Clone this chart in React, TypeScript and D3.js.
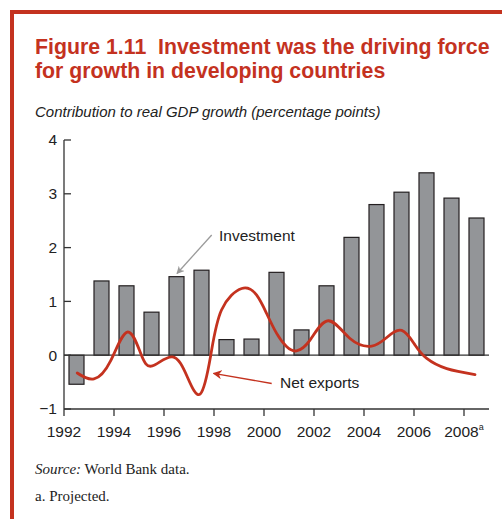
import React from 'react';
import * as d3 from 'd3';

// Investment contribution, one bar per year
const years = [1992, 1993, 1994, 1995, 1996, 1997, 1998, 1999, 2000, 2001, 2002, 2003, 2004, 2005, 2006, 2007, 2008];
const investment = [-0.54, 1.38, 1.29, 0.8, 1.46, 1.58, 0.29, 0.3, 1.54, 0.47, 1.29, 2.19, 2.8, 3.03, 3.39, 2.92, 2.55];

// Net exports, points (fractional years)
const netYears = [
  1992.53, 1993.2, 1993.87, 1994.53, 1995.07, 1995.53, 1996.33, 1996.93, 1997.45,
  1997.87, 1998.3, 1999.11, 1999.7, 2000.1, 2000.5, 2000.9, 2001.3, 2001.84, 2002.57,
  2003.44, 2004.31, 2004.91, 2005.51, 2006.04, 2006.51, 2007.31, 2008.44,
];
const netValues = [
  -0.33, -0.44, -0.1, 0.43, 0.03, -0.2, -0.03, -0.4, -0.72,
  0.0, 0.84, 1.24, 1.12, 0.78, 0.41, 0.16, 0.08, 0.28, 0.64,
  0.31, 0.17, 0.33, 0.46, 0.19, -0.06, -0.25, -0.36,
];

const yTicks = [-1, 0, 1, 2, 3, 4];
const xTicks = [1992, 1994, 1996, 1998, 2000, 2002, 2004, 2006, 2008];

const RED = '#c4321f';
const SANS = '"Liberation Sans", Arial, Helvetica, sans-serif';
const SERIF = '"Liberation Serif", "Times New Roman", serif';

export default function App() {
  const W = 502;
  const H = 519;

  const x = d3.scaleLinear().domain([1992, 2009]).range([64, 489]);
  const y = d3.scaleLinear().domain([-1, 4]).range([409, 140]);
  const barW = (x(1993) - x(1992)) * 0.6;

  const netLine = d3.line<number>()
    .x((_, i) => x(netYears[i]))
    .y(d => y(d))
    .curve(d3.curveNatural);

  const axisColor = '#333';

  return (
    <div style={{ position: 'fixed', left: 0, top: 0 }}>
      <svg width={W} height={H} style={{ display: 'block', background: '#fff' }}>
        {/* frame */}
        <rect x={10} y={10} width={W - 10} height={4} fill={RED} />
        <rect x={10} y={10} width={4} height={H - 10} fill={RED} />

        {/* title */}
        <text x={35} y={53.5} fill={RED} fontFamily={SANS} fontWeight="bold" fontSize={21.3} style={{ whiteSpace: 'pre' }}>
          {'Figure 1.11  Investment was the driving force'}
        </text>
        <text x={35} y={77.5} fill={RED} fontFamily={SANS} fontWeight="bold" fontSize={21.3}>
          for growth in developing countries
        </text>
        <text x={35} y={117} fill="#222" fontFamily={SANS} fontStyle="italic" fontSize={15}>
          Contribution to real GDP growth (percentage points)
        </text>

        {/* bars */}
        {years.map((yr, i) => {
          const v = investment[i];
          const cx = x(yr + 0.5);
          return (
            <rect
              key={yr}
              x={cx - barW / 2}
              y={Math.min(y(v), y(0))}
              width={barW}
              height={Math.abs(y(v) - y(0))}
              fill="#939598"
              stroke="#231f20"
              strokeWidth={1.2}
            />
          );
        })}

        {/* zero line */}
        <line x1={x(1992)} x2={x(2009)} y1={y(0)} y2={y(0)} stroke={axisColor} strokeWidth={1.3} />

        {/* net exports */}
        <path d={netLine(netValues) || ''} fill="none" stroke={RED} strokeWidth={2.8} strokeLinecap="round" strokeLinejoin="round" />

        {/* y axis */}
        <line x1={x(1992)} x2={x(1992)} y1={y(4)} y2={y(-1)} stroke={axisColor} strokeWidth={1.3} />
        {yTicks.map(t => (
          <g key={t}>
            <line x1={x(1992)} x2={x(1992) + 7} y1={y(t)} y2={y(t)} stroke={axisColor} strokeWidth={1.3} />
            <text x={57} y={y(t)} dy="0.35em" textAnchor="end" fontFamily={SANS} fontSize={15.5} fill="#222">
              {t < 0 ? `\u2212${Math.abs(t)}` : t}
            </text>
          </g>
        ))}

        {/* x axis */}
        <line x1={x(1992)} x2={x(2009)} y1={y(-1)} y2={y(-1)} stroke={axisColor} strokeWidth={1.3} />
        {xTicks.map(t => (
          <g key={t}>
            <line x1={x(t)} x2={x(t)} y1={y(-1)} y2={y(-1) + 7} stroke={axisColor} strokeWidth={1.3} />
            <text x={x(t)} y={y(-1) + 28} textAnchor="middle" fontFamily={SANS} fontSize={15.5} fill="#222">
              {t}
              {t === 2008 && <tspan fontSize={9} dy={-7}>a</tspan>}
            </text>
          </g>
        ))}

        {/* annotations */}
        <defs>
          <marker id="arrGray" viewBox="0 0 10 10" refX={9} refY={5} markerWidth={6} markerHeight={6} orient="auto">
            <path d="M0,0 L10,5 L0,10 L3,5 Z" fill="#9a9a9a" />
          </marker>
          <marker id="arrRed" viewBox="0 0 10 10" refX={9} refY={5} markerWidth={7} markerHeight={7} orient="auto">
            <path d="M0,0 L10,5 L0,10 L3,5 Z" fill={RED} />
          </marker>
        </defs>
        <line x1={211.7} y1={235} x2={177} y2={273.5} stroke="#9a9a9a" strokeWidth={1.3} markerEnd="url(#arrGray)" />
        <text x={219} y={240.7} fontFamily={SANS} fontSize={15.5} fill="#222">Investment</text>
        <line x1={271.7} y1={383.5} x2={213.5} y2={373.3} stroke={RED} strokeWidth={1.3} markerEnd="url(#arrRed)" />
        <text x={280} y={388.3} fontFamily={SANS} fontSize={15.5} fill="#222">Net exports</text>

        {/* notes */}
        <text x={35} y={474} fontFamily={SERIF} fontSize={15} fill="#222">
          <tspan fontStyle="italic">Source:</tspan> World Bank data.
        </text>
        <text x={35} y={501} fontFamily={SERIF} fontSize={15} fill="#222">
          a. Projected.
        </text>
      </svg>
    </div>
  );
}
